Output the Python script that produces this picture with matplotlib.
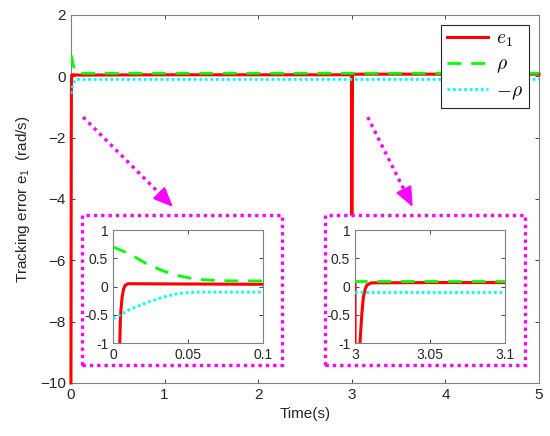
import matplotlib
matplotlib.use("Agg")
import matplotlib.pyplot as plt
from matplotlib.patches import Rectangle

plt.rcParams["font.family"] = ["Liberation Sans", "DejaVu Sans"]
plt.rcParams["mathtext.fontset"] = "cm"

# e1 (tracking error)
t_e1 = [0.0, 0.002, 0.004, 0.005, 0.006, 0.007, 0.008, 0.010, 0.05, 0.1, 1.0, 2.0, 3.0,
        3.0001, 3.002, 3.0033, 3.0045, 3.0055, 3.0067, 3.008, 3.011, 3.05, 3.1, 4.0, 5.0]
e1 = [-10.0, -5.0, -1.5, -0.5, -0.2, -0.05, 0.02, 0.05, 0.045, 0.04, 0.05, 0.05, 0.05,
      -6.0, -2.0, -1.0, -0.5, -0.2, -0.05, 0.03, 0.065, 0.07, 0.07, 0.07, 0.07]

# prescribed bounds rho and -rho
t_rho = [0.0, 0.011, 0.022, 0.033, 0.044, 0.055, 0.067, 0.08, 0.1, 1.0, 3.0, 3.1, 5.0]
rho = [0.70, 0.58, 0.41, 0.28, 0.19, 0.13, 0.11, 0.10, 0.10, 0.10, 0.10, 0.10, 0.10]
neg_rho = [-0.57, -0.41, -0.29, -0.19, -0.12, -0.10, -0.10, -0.10, -0.10, -0.10, -0.10, -0.10, -0.10]

main_xticks = [0, 1, 2, 3, 4, 5]
main_yticks = [-10, -8, -6, -4, -2, 0, 2]
inset_yticks = [-1, -0.5, 0, 0.5, 1]
inset_ylabels = ["-1", "-0.5", "0", "0.5", "1"]
inset1_xticks = [0, 0.05, 0.1]
inset1_xlabels = ["0", "0.05", "0.1"]
inset2_xticks = [3, 3.05, 3.1]
inset2_xlabels = ["3", "3.05", "3.1"]

AX_COL = "#262626"
MAGENTA = "#ff00ff"


def draw_lines(ax, lw=2.2, clip=True):
    ax.plot(t_e1, e1, color="#ff0000", lw=lw, label=r"$e_1$", zorder=3, clip_on=clip)
    ax.plot(t_rho, rho, color="#00ff00", lw=lw - 0.2, ls=(0, (5, 3.5)), label=r"$\rho$", zorder=4)
    ax.plot(t_rho, neg_rho, color="#00ffff", lw=lw - 0.2, ls=(0, (1, 1)), label=r"$-\rho$", zorder=4)


def style(ax, size):
    ax.tick_params(direction="in", top=True, right=True, colors=AX_COL, labelsize=size,
                   length=3, width=0.6)
    for s in ax.spines.values():
        s.set_color("#808080")
        s.set_linewidth(0.8)


def zoom_arrow(ax, start, end):
    # dotted shaft plus a solid head
    k = 0.88
    mid = (start[0] + k * (end[0] - start[0]), start[1] + k * (end[1] - start[1]))
    ax.plot([start[0], mid[0]], [start[1], mid[1]], color=MAGENTA, lw=2.4, ls=(0, (1, 1.3)))
    ax.annotate("", xy=end, xytext=mid,
                arrowprops=dict(arrowstyle="-|>,head_length=0.75,head_width=0.32",
                                color=MAGENTA, lw=1.5, mutation_scale=16,
                                shrinkA=0, shrinkB=0))


fig = plt.figure(figsize=(5.5, 4.36), dpi=100)
ax = fig.add_axes([0.129, 0.1216, 0.851, 0.844])
draw_lines(ax, clip=False)
ax.set_xlim(0, 5)
ax.set_ylim(-10, 2)
ax.set_xticks(main_xticks)
ax.set_yticks(main_yticks)
style(ax, 11)
ax.set_xlabel("Time(s)", fontsize=11, color=AX_COL, labelpad=4)
ax.set_ylabel(r"Tracking error e$\mathregular{_1}$  (rad/s)", fontsize=11, color=AX_COL, labelpad=6)

leg = ax.legend(loc="upper right", bbox_to_anchor=(0.978, 0.974), fontsize=14,
                fancybox=False, framealpha=1, edgecolor="#262626", handlelength=2.1,
                handletextpad=0.4, borderpad=0.3, labelspacing=0.35, borderaxespad=0)
leg.get_frame().set_linewidth(0.8)
leg.set_zorder(10)

zoom_arrow(ax, (0.13, -1.33), (1.09, -4.26))
zoom_arrow(ax, (3.17, -1.33), (3.65, -4.26))

# magenta dotted frames around the insets
for x0 in (0.149, 0.591):
    fig.add_artist(Rectangle((x0, 0.163), 0.363, 0.344, transform=fig.transFigure,
                             facecolor="white", edgecolor=MAGENTA, lw=2.4,
                             ls=(0, (1, 1.2)), zorder=1))

ins1 = fig.add_axes([0.2055, 0.2133, 0.2727, 0.259], zorder=2)
draw_lines(ins1)
ins1.set_xlim(0, 0.1)
ins1.set_ylim(-1, 1)
ins1.set_xticks(inset1_xticks, inset1_xlabels)
ins1.set_yticks(inset_yticks, inset_ylabels)
style(ins1, 10)

ins2 = fig.add_axes([0.6455, 0.2133, 0.2727, 0.259], zorder=2)
draw_lines(ins2)
ins2.set_xlim(3, 3.1)
ins2.set_ylim(-1, 1)
ins2.set_xticks(inset2_xticks, inset2_xlabels)
ins2.set_yticks(inset_yticks, inset_ylabels)
style(ins2, 10)

fig.savefig("out.png", dpi=100)
